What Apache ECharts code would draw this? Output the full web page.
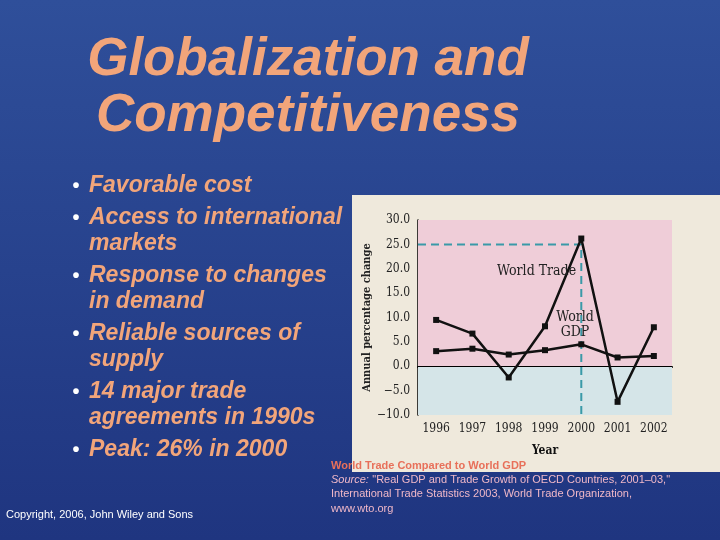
<!DOCTYPE html>
<html><head><meta charset="utf-8">
<script src="https://cdn.jsdelivr.net/npm/echarts@6/dist/echarts.min.js"></script>
<style>html,body{margin:0;padding:0;}#c{width:720px;height:540px;}</style>
</head><body><div id="c"></div>
<script>
const years = ['1996','1997','1998','1999','2000','2001','2002'];
const worldTrade = [9.5, 6.7, -2.3, 8.2, 26.2, -7.3, 8.0];
const worldGDP = [3.1, 3.6, 2.4, 3.3, 4.5, 1.8, 2.1];
const yTicks = [-10, 30, 5];
const titleLines = ['Globalization and', 'Competitiveness'];
const bullets = [
  ['Favorable cost'],
  ['Access to international', 'markets'],
  ['Response to changes', 'in demand'],
  ['Reliable sources of', 'supply'],
  ['14 major trade', 'agreements in 1990s'],
  ['Peak: 26% in 2000']
];
const guide = [[0, 25], [4.5, 25], [4.5, -10]];

const orange = '#f2a57a';
const g = [];
g.push({type:'rect', z:-10, shape:{x:0,y:0,width:720,height:540},
  style:{fill:{type:'linear',x:0,y:0,x2:0,y2:1,colorStops:[{offset:0,color:'#2f4f9a'},{offset:1,color:'#1f3580'}]}}});
g.push({type:'rect', z:-5, shape:{x:352,y:195,width:368,height:277}, style:{fill:'#efe9dc'}});
titleLines.forEach((t,i)=>g.push({type:'text', x:308, y:60+i*56, style:{text:t, fill:orange,
  font:'italic bold 53px "Liberation Sans", Arial', textAlign:'center', textVerticalAlign:'middle',
  shadowColor:'rgba(0,0,0,0.6)', shadowOffsetX:2, shadowOffsetY:2, shadowBlur:1}}));
let y = 186;
bullets.forEach(b=>{
  g.push({type:'text', x:76, y:y, style:{text:'•', fill:'#ffffff', font:'bold 20px "Liberation Sans"', textAlign:'center', textVerticalAlign:'middle'}});
  b.forEach((line,j)=>{
    g.push({type:'text', x:89, y:y, style:{text:line, fill:orange, font:'italic bold 23px "Liberation Sans", Arial', textVerticalAlign:'middle',
      shadowColor:'rgba(0,0,0,0.4)', shadowOffsetX:1, shadowOffsetY:1}});
    y += 26;
  });
  y += 6;
});
g.push({type:'text', x:6, y:515, style:{text:'Copyright, 2006, John Wiley and Sons', fill:'#ffffff', font:'11px "Liberation Sans"', textVerticalAlign:'middle'}});
g.push({type:'text', x:331, y:466, z:10, style:{text:'World Trade Compared to World GDP', fill:'#e8705a', font:'bold 11px "Liberation Sans"', textVerticalAlign:'middle'}});
g.push({type:'text', x:331, y:480, z:10, style:{rich:{i:{fontStyle:'italic',fill:'#f0b8c8',fontSize:11,fontFamily:'Liberation Sans'},n:{fill:'#f0b8c8',fontSize:11,fontFamily:'Liberation Sans'}},
  text:'{i|Source:} {n|"Real GDP and Trade Growth of OECD Countries, 2001–03,"}', textVerticalAlign:'middle'}});
g.push({type:'text', x:331, y:494, style:{text:'International Trade Statistics 2003, World Trade Organization,', fill:'#f0b8c8', font:'11px "Liberation Sans"', textVerticalAlign:'middle'}});
g.push({type:'text', x:331, y:509, style:{text:'www.wto.org', fill:'#f0b8c8', font:'11px "Liberation Sans"', textVerticalAlign:'middle'}});
g.push({type:'text', x:497, y:271, z:10, style:{text:'World Trade', fill:'#222', font:'14px "DejaVu Serif Condensed", serif', textVerticalAlign:'middle'}});
g.push({type:'text', x:575, y:325, z:10, style:{text:'World\nGDP', fill:'#222', font:'14px "DejaVu Serif Condensed", serif', textAlign:'center', textVerticalAlign:'middle', lineHeight:15}});

const chart = echarts.init(document.getElementById('c'));
chart.setOption({
  animation:false,
  graphic:g,
  grid:{left:418, width:254, top:220, height:195},
  xAxis:[{type:'category', data:years, boundaryGap:true,
    axisLine:{lineStyle:{color:'#000', width:2}}, axisTick:{show:true, alignWithLabel:true, length:-6, lineStyle:{color:'#000'}},
    axisLabel:{color:'#222', fontFamily:'DejaVu Serif Condensed', fontSize:12, margin:8},
    name:'Year', nameLocation:'middle', nameGap:30, nameTextStyle:{color:'#111', fontWeight:'bold', fontFamily:'DejaVu Serif Condensed', fontSize:12}},
    {type:'value', min:0, max:7, show:false}],
  yAxis:{type:'value', min:yTicks[0], max:yTicks[1], interval:yTicks[2],
    axisLine:{show:true, lineStyle:{color:'#000', width:1.5}}, axisTick:{show:false}, splitLine:{show:false},
    axisLabel:{color:'#222', fontFamily:'DejaVu Serif Condensed', fontSize:12, formatter:v=>(v<0?'−':'')+Math.abs(v).toFixed(1)},
    name:'Annual percentage change', nameLocation:'middle', nameGap:36, nameTextStyle:{color:'#222', fontWeight:'bold', fontFamily:'DejaVu Serif Condensed', fontSize:11}},
  series:[
    {type:'line', data:worldTrade, symbol:'rect', symbolSize:6, itemStyle:{color:'#111'}, lineStyle:{color:'#111', width:2.5}, z:5,
      markArea:{silent:true, data:[[{yAxis:0, itemStyle:{color:'#efcdd8'}},{yAxis:30}],[{yAxis:-10, itemStyle:{color:'#d5e5e8'}},{yAxis:0}]]},
      markLine:{silent:true, symbol:'none', label:{show:false}, lineStyle:{color:'#000', type:'solid', width:1}, data:[{yAxis:0}]}},
    {type:'line', data:worldGDP, symbol:'rect', symbolSize:6, itemStyle:{color:'#111'}, lineStyle:{color:'#111', width:2.5}, z:5},
    {type:'line', xAxisIndex:1, data:guide, symbol:'none', lineStyle:{color:'#3a9aa8', type:[8,5], width:2}, z:4}
  ]
});
</script></body></html>
